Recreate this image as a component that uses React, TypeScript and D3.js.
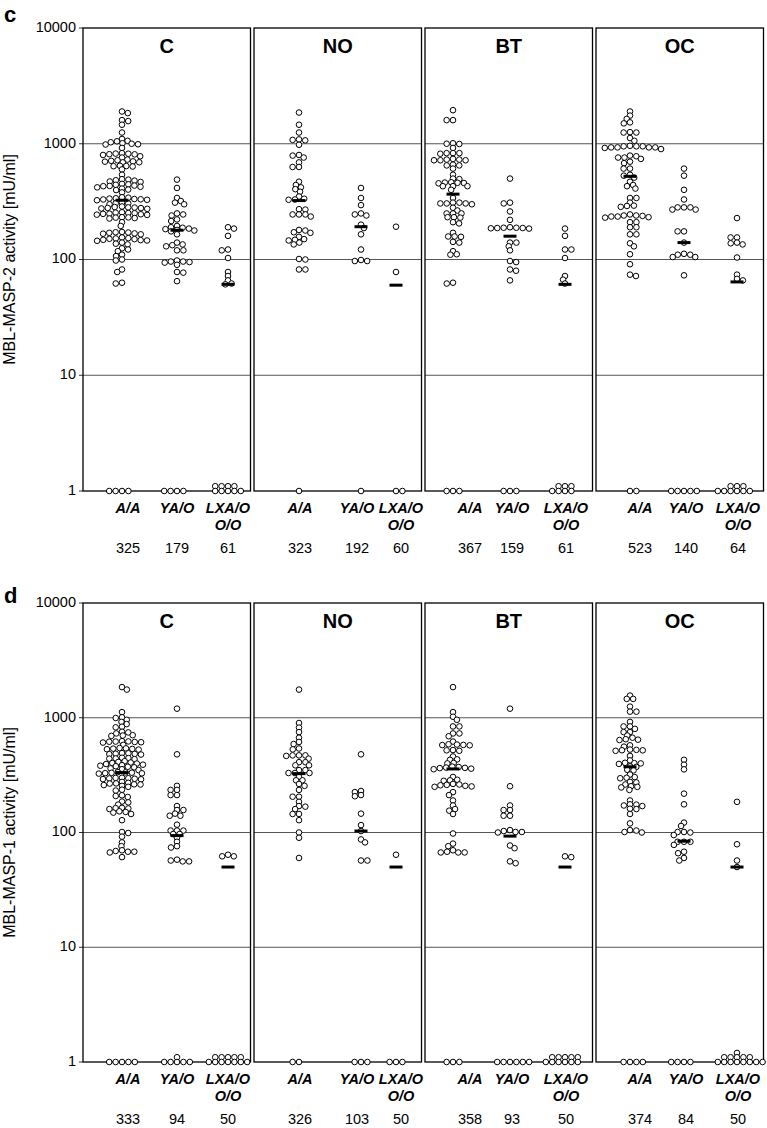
import React from "react";
import * as d3 from "d3";

// ---------- DATA ----------
const PANELS = ["C", "NO", "BT", "OC"];
const CATS = ["A/A", "YA/O", "LXA/O"];
const TICKS = [1, 10, 100, 1000, 10000];

// MBL-MASP-2 (panel c)
const cC_AA = [1900,1840,1600,1570,1460,1250,1100,1060,1050,1030,1010,1000,990,985,920,830,820,810,800,812,822,780,760,730,720,700,690,704,712,692,645,640,636,642,600,540,490,480,472,468,484,494,442,435,430,425,420,432,446,450,410,402,398,380,342,336,331,328,325,333,338,345,330,310,305,300,306,287,281,276,279,284,282,274,278,256,251,246,249,254,244,252,248,243,230,228,232,226,231,210,195,172,170,168,165,171,167,173,155,152,150,148,145,151,153,147,146,140,137,135,125,122,118,110,107,100,98,82,78,63,62,1,1,1,1];
const cC_YA = [490,415,340,320,310,300,250,245,240,222,215,195,190,188,185,183,180,178,175,165,140,135,133,130,120,120,98,96,95,94,96,90,77,78,65,1,1,1,1];
const cC_LX = [190,185,160,122,120,103,78,72,66,62,61,1.1,1.1,1.1,1.1,1,1,1,1,1];
const cNO_AA = [1860,1460,1250,1080,1090,1070,980,790,800,760,690,630,630,470,440,420,405,385,350,335,330,328,270,272,245,245,245,235,178,180,170,172,157,150,148,146,140,135,100,101,82,82,1];
const cNO_YA = [415,340,295,245,250,240,200,187,165,122,97,99,97,1];
const cNO_LX = [192,78,1,1];
const cBT_AA = [1950,1600,1600,1000,1010,995,920,830,820,830,830,730,720,720,730,740,720,660,650,650,610,540,500,495,462,458,455,460,465,430,430,430,400,340,310,305,300,305,310,305,280,265,250,250,250,232,230,232,210,205,170,158,157,158,142,140,118,110,111,62,63,1,1,1];
const cBT_YA = [500,310,305,260,220,190,186,187,188,187,185,188,140,140,130,120,95,97,80,82,66,1,1,1];
const cBT_LX = [185,160,122,122,103,72,67,62,1.1,1.1,1.1,1,1,1,1];
const cOC_AA = [1900,1750,1640,1530,1500,1260,1250,1250,1120,1060,950,930,920,930,960,950,930,930,950,900,780,760,740,760,790,700,680,610,610,540,510,530,470,440,410,430,340,310,285,290,292,340,240,235,230,235,232,238,240,245,210,210,190,190,165,165,130,138,111,91,72,74,1,1];
const cOC_YA = [610,530,400,330,282,270,282,270,282,175,175,140,110,105,112,105,110,73,1,1,1,1,1];
const cOC_LX = [228,155,155,140,135,138,104,74,68,66,1.1,1.1,1.1,1,1,1,1,1,1];
const cMedians = [[325,179,61],[323,192,60],[367,159,61],[523,140,64]];

// MBL-MASP-1 (panel d)
const dC_AA = [1850,1760,1120,1010,995,960,920,880,835,825,755,745,730,705,700,695,625,620,615,612,618,622,608,580,545,538,532,528,535,541,490,486,482,478,492,484,445,440,436,448,442,418,412,407,403,399,395,390,386,382,378,374,370,362,356,350,334,331,328,326,336,329,332,300,297,294,292,296,299,291,276,271,267,263,259,255,268,262,250,236,232,211,208,204,186,183,175,164,162,160,163,153,151,149,145,128,101,99,92,82,76,69,68,67,68,70,61,1,1,1,1,1];
const dC_YA = [1200,480,255,235,235,212,212,170,157,157,146,140,140,117,104,104,104,97,97,90,83,76,74,57,56,56,58,1.1,1,1,1,1,1];
const dC_LX = [62,64,62,1.1,1.1,1.1,1.1,1.1,1,1,1,1,1,1,1];
const dNO_AA = [1760,900,820,750,670,615,590,540,530,470,465,470,470,440,410,410,385,385,350,350,330,330,330,305,285,285,265,255,235,205,205,185,170,168,160,145,145,128,100,90,60,1,1];
const dNO_YA = [480,230,225,212,207,146,116,103,87,82,57,57,1,1,1];
const dNO_LX = [64,1,1,1];
const dBT_AA = [1850,1120,1020,960,840,840,730,730,690,620,580,584,587,575,578,520,523,515,460,430,434,400,404,372,368,364,360,356,366,375,305,285,288,282,265,262,258,255,252,250,260,225,212,190,172,160,155,145,98,80,76,68,67,67,67,70,1,1,1];
const dBT_YA = [1200,253,172,157,157,140,140,105,101,100,101,103,73,77,56,54,1,1,1,1,1,1];
const dBT_LX = [62,61,1.1,1.1,1.1,1.1,1.1,1,1,1,1,1,1];
const dOC_AA = [1560,1460,1460,1250,1130,1130,920,840,840,800,750,750,700,670,640,644,650,575,560,520,525,515,521,528,465,425,405,400,396,402,377,373,352,348,320,304,300,297,276,273,262,253,250,247,235,190,175,172,170,176,160,161,145,120,104,105,100,101,1,1,1,1];
const dOC_YA = [430,390,355,218,176,122,114,101,100,101,95,83,83,83,78,68,66,60,57,1,1,1,1];
const dOC_LX = [185,79,57,50,1.2,1.1,1.1,1.1,1.1,1.1,1,1,1,1,1,1,1,1];
const dMedians = [[333,94,50],[326,103,50],[358,93,50],[374,84,50]];

// ---------- LAYOUT ----------
const W = 767, H = 1128;
const PANEL_X = [83, 254, 425, 596];
const PANEL_W = 167.5;
const SWARM_OFF = [[39, 94, 145], [45, 107, 142], [28, 85, 140], [34, 88, 141]];
const LABEL_OFF = [[45, 94, 145], [46, 103, 147], [45, 87, 141], [44, 90, 142]];
const FONT = "'Liberation Sans', Arial, Helvetica, sans-serif";
const DX = 6.4, DY = 3.8;

const charts = [
  { letter: "c", letterY: 22, title: "MBL-MASP-2 activity [mU/ml]", top: 28, bottom: 491,
    groups: [[cC_AA, cC_YA, cC_LX], [cNO_AA, cNO_YA, cNO_LX], [cBT_AA, cBT_YA, cBT_LX], [cOC_AA, cOC_YA, cOC_LX]],
    medians: cMedians },
  { letter: "d", letterY: 603, title: "MBL-MASP-1 activity [mU/ml]", top: 603, bottom: 1062,
    groups: [[dC_AA, dC_YA, dC_LX], [dNO_AA, dNO_YA, dNO_LX], [dBT_AA, dBT_YA, dBT_LX], [dOC_AA, dOC_YA, dOC_LX]],
    medians: dMedians },
];

function swarm(values: number[], y: (v: number) => number) {
  const pts = values.map((v) => ({ v, y: y(v), x: 0 })).sort((a, b) => a.y - b.y);
  const placed: { v: number; y: number; x: number }[] = [];
  let flip = 1;
  for (const p of pts) {
    const near = placed.filter((q) => Math.abs(q.y - p.y) < DY);
    const cands = [0];
    for (const q of near) {
      const t = (q.y - p.y) / DY;
      const dx = DX * Math.sqrt(1 - t * t);
      cands.push(q.x + dx, q.x - dx);
    }
    const ok = cands.filter((c) =>
      near.every((q) => ((q.x - c) / DX) ** 2 + ((q.y - p.y) / DY) ** 2 >= 1 - 1e-6)
    );
    ok.sort((a, b) => Math.abs(a) - Math.abs(b) || (a - b) * flip);
    p.x = ok[0];
    flip = -flip;
    placed.push(p);
  }
  return placed;
}

function Chart({ cfg }: { cfg: (typeof charts)[number] }) {
  const y = d3.scaleLog().domain([1, 10000]).range([cfg.bottom, cfg.top]);
  return (
    <g>
      <text x={4} y={cfg.letterY} fontSize={22} fontWeight="bold" fontFamily={FONT}>{cfg.letter}</text>
      {TICKS.map((t) => (
        <g key={t}>
          <line x1={79} x2={83} y1={y(t)} y2={y(t)} stroke="#333" strokeWidth={1} />
          <text x={76} y={y(t)} textAnchor="end" dominantBaseline="middle" fontSize={14.5} fontFamily={FONT}>{t}</text>
        </g>
      ))}
      <text transform={`translate(15,${y(100)}) rotate(-90)`} textAnchor="middle" fontSize={16} fontFamily={FONT}>{cfg.title}</text>
      {PANELS.map((name, pi) => {
        const x0 = PANEL_X[pi];
        return (
          <g key={name}>
            {[10, 100, 1000].map((t) => (
              <line key={t} x1={x0} x2={x0 + PANEL_W} y1={y(t)} y2={y(t)} stroke="#555" strokeWidth={1} />
            ))}
            <rect x={x0} y={cfg.top} width={PANEL_W} height={cfg.bottom - cfg.top} fill="none" stroke="#000" strokeWidth={1.3} />
            <text x={x0 + PANEL_W / 2} y={cfg.top + 25} textAnchor="middle" fontSize={20} fontWeight="bold" fontFamily={FONT}>{name}</text>
            {cfg.groups[pi].map((vals, gi) => {
              const cx = x0 + SWARM_OFF[pi][gi];
              const pts = swarm(vals, y);
              return (
                <g key={gi}>
                  {pts.map((p, k) => (
                    <circle key={k} cx={cx + p.x} cy={p.y} r={2.8} fill="#fff" stroke="#000" strokeWidth={1} />
                  ))}
                  <line x1={cx - 6.5} x2={cx + 6.5} y1={y(cfg.medians[pi][gi])} y2={y(cfg.medians[pi][gi])} stroke="#000" strokeWidth={3} />
                </g>
              );
            })}
            {CATS.map((c, gi) => {
              const lx = x0 + LABEL_OFF[pi][gi];
              return (
                <g key={c}>
                  <text x={lx} y={cfg.bottom + 22} textAnchor="middle" fontSize={14.5} fontWeight="bold" fontStyle="italic" fontFamily={FONT}>{c}</text>
                  {gi === 2 && (
                    <text x={lx} y={cfg.bottom + 39} textAnchor="middle" fontSize={14.5} fontWeight="bold" fontStyle="italic" fontFamily={FONT}>O/O</text>
                  )}
                  <text x={lx} y={cfg.bottom + 62} textAnchor="middle" fontSize={14.5} fontFamily={FONT}>{cfg.medians[pi][gi]}</text>
                </g>
              );
            })}
          </g>
        );
      })}
    </g>
  );
}

export default function App() {
  return (
    <svg width={W} height={H} style={{ position: "absolute", left: 0, top: 0, background: "#fff" }}>
      <rect width={W} height={H} fill="#fff" />
      {charts.map((c) => (
        <Chart key={c.letter} cfg={c} />
      ))}
    </svg>
  );
}
